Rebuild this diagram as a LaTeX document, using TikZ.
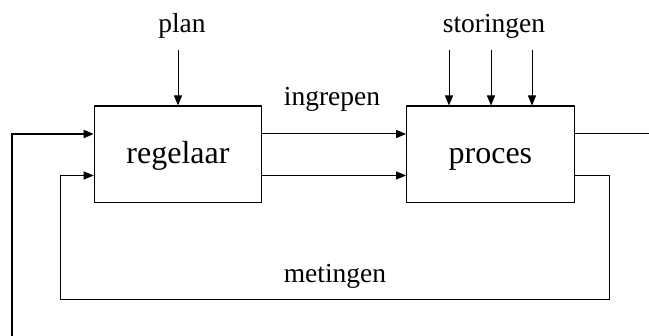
\documentclass[tikz,border=0pt]{standalone}
\usepackage{fontspec}
\setmainfont{Liberation Serif}
\usetikzlibrary{arrows.meta}
\begin{document}
\begin{tikzpicture}[x=1pt,y=-1pt,
  block/.style={draw, line width=1.2pt, minimum width=167.4pt, minimum height=96.8pt,
    inner sep=0pt, font=\fontsize{32}{36}\selectfont, text height=23pt, text depth=4pt},
  lbl/.style={anchor=base, inner sep=0pt, font=\fontsize{27.5}{30}\selectfont},
  flow/.style={line width=1pt, -{Triangle[length=10pt,width=8pt]}},
  wire/.style={line width=1pt}]
\useasboundingbox (0,0) rectangle (649,336);

% the two blocks
\node[block] (regelaar) at (178,154.4) {regelaar};
\node[block] (proces)   at (490.4,154.5) {proces};

% inputs from above
\coordinate (planTop) at (178,50);
\coordinate (s1) at (449,50);
\coordinate (s2) at (491,50);
\coordinate (s3) at (532,50);
\draw[flow] (planTop) -- (planTop |- regelaar.north);
\draw[flow] (s1) -- (s1 |- proces.north);
\draw[flow] (s2) -- (s2 |- proces.north);
\draw[flow] (s3) -- (s3 |- proces.north);

% control actions between the blocks
\draw[flow] (regelaar.east |- 0,134) -- (proces.west |- 0,134);
\draw[flow] (regelaar.east |- 0,175.5) -- (proces.west |- 0,175.5);

% process output
\coordinate (out) at (649,134);
\draw[wire] (proces.east |- out) -- (out);

% measurement feedback loop
\coordinate (fbR) at (609,300);
\coordinate (fbL) at (60,175.5);
\draw[flow] (proces.east |- fbL) -| (fbR) -| (fbL) -- (regelaar.west |- fbL);

% external input
\coordinate (ext) at (12,336);
\draw[flow, line width=2pt] (ext) |- (regelaar.west |- 0,134);

% labels
\node[lbl] (planLbl) at (182,33) {plan};
\node[lbl] (storLbl) at (494,33) {storingen};
\node[lbl] (ingrLbl) at (332,106) {ingrepen};
\node[lbl] (metLbl)  at (335,283) {metingen};
\end{tikzpicture}
\end{document}
